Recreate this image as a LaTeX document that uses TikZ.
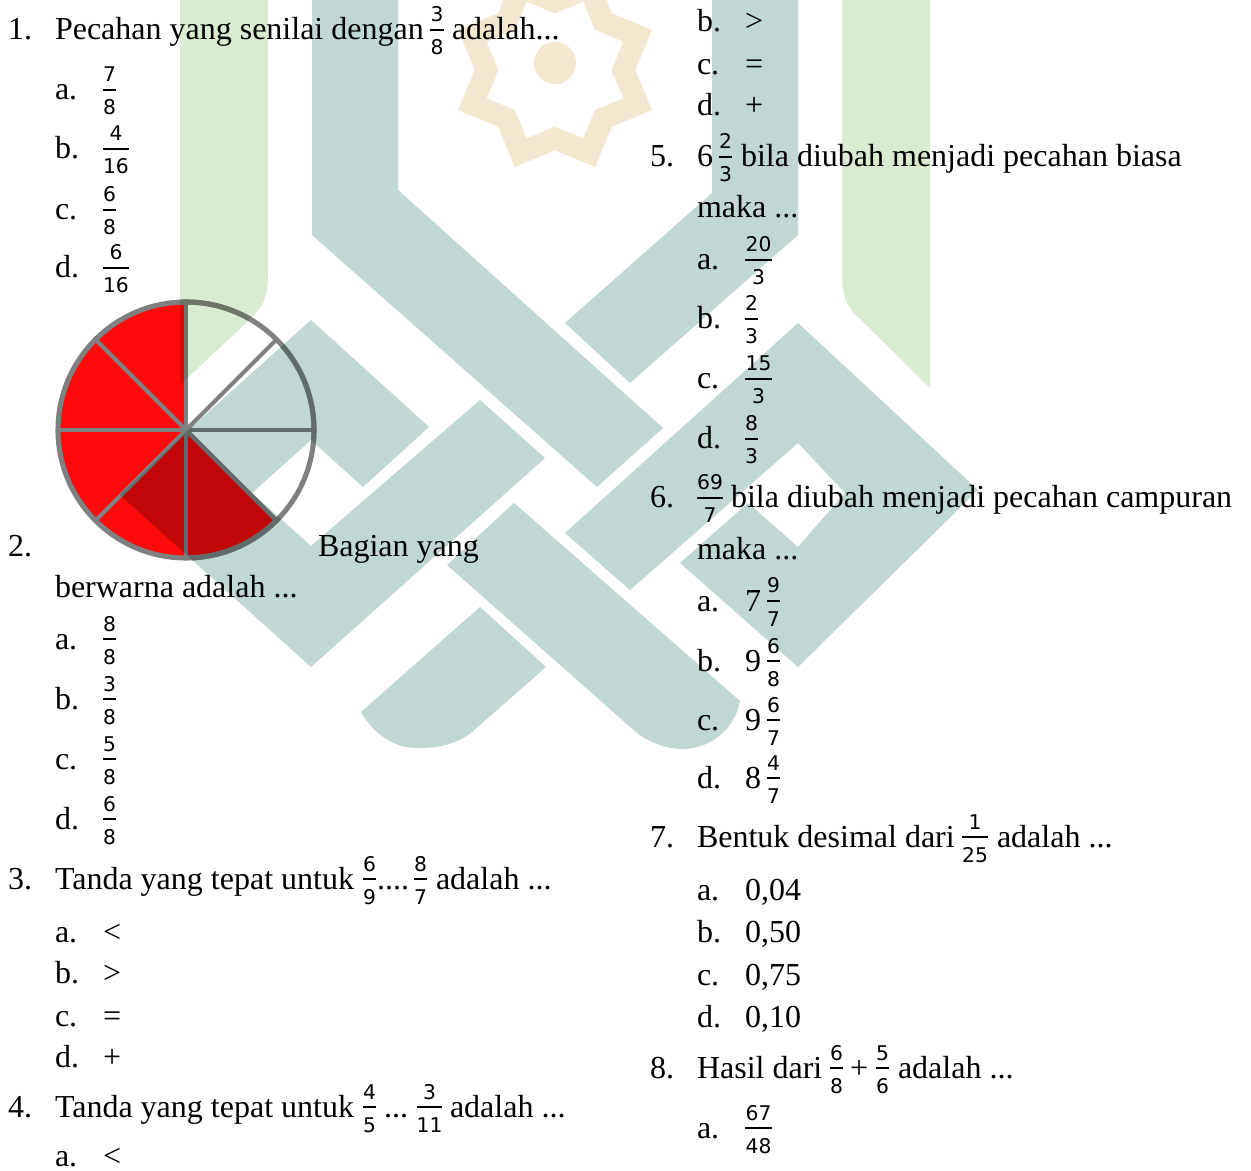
\documentclass[tikz,border=0pt]{standalone}
\usepackage{fontspec}
\setmainfont{Liberation Serif}
\newfontfamily\fracf{DejaVu Sans}
\definecolor{wteal}{RGB}{192,215,212}
\definecolor{wgreen}{RGB}{217,236,210}
\definecolor{wbeige}{RGB}{243,231,207}
\definecolor{piered}{RGB}{255,10,10}
\definecolor{piegray}{RGB}{128,128,128}
\definecolor{tealred}{RGB}{192,8,8}
\definecolor{greenred}{RGB}{217,9,8}
\definecolor{tealgray}{RGB}{96,108,106}
\definecolor{greengray}{RGB}{109,118,105}
\tikzset{
  txt/.style={anchor=base west, inner sep=0pt, outer sep=0pt, font=\fontsize{12}{14}\selectfont},
  fnum/.style={anchor=base, inner sep=0pt, outer sep=0pt, font=\fracf\fontsize{7.6}{9}\selectfont},
  fbar/.style={line width=1.1pt},
  sliceline/.style={line width=1.5pt},
  rim/.style={line width=1.9pt},
}
% #1 name, #2 left x, #3 baseline, #4 width, #5 numerator, #6 denominator
\newcommand\frc[6]{%
  \node[fnum] (#1n) at ({#2+#4/2},{#3-18}) {#5};
  \node[fnum] (#1d) at ({#2+#4/2},{#3+15}) {#6};
  \draw[fbar] (#2,{#3-10}) -- ({#2+#4},{#3-10});}
% watermark paths (pixel coordinates)
\def\wmGreen{(180,-2) -- (268,-2) -- (268,272) .. controls (268,300) and (262,308) .. (248,321) -- (180,385) -- cycle
  (930,-2) -- (842,-2) -- (842,272) .. controls (842,300) and (848,308) .. (862,321) -- (930,388) -- cycle}
\def\wmTeal{(312,-2) -- (398,-2) -- (398,190) -- (663,428) -- (597,487) -- (312,235) -- cycle
  (712,-2) -- (798,-2) -- (798,235) -- (630,383) -- (565,323) -- (712,193) -- cycle
  (311,320) -- (429,427) -- (363,487) -- (311,440) -- (252,493) -- (185,433) -- cycle
  (120,495) -- (311,667) -- (545,458) -- (480,400) -- (311,546) -- (252,493) -- (185,433) -- cycle
  (565,533) -- (798,323) -- (978,490) -- (798,667) -- (680,563) -- (748,503) -- (798,547)
     -- (845,493) -- (798,443) -- (630,590) -- cycle
  (514,503) -- (740,701) .. controls (735,728) and (712,748) .. (684,749)
     .. controls (665,749) and (645,742) .. (628,725) -- (447,565) -- cycle
  (480,607) -- (546,667) -- (472,732) .. controls (455,746) and (430,750) .. (405,747)
     .. controls (385,742) and (370,728) .. (361,712) -- cycle}
\def\redsector{(186,430) -- (186,302) arc[start angle=-90, end angle=-315, radius=128] -- cycle}
\newcommand\pielines[1]{%
  \foreach \a in {0,45,...,315} \draw[sliceline, draw=#1] (pc) -- ++(\a:128);
  \draw[rim, draw=#1] (pc) circle[radius=128];}
\begin{document}
\begin{tikzpicture}[x=0.375pt,y=-0.375pt]
\fill[white] (0,0) rectangle (1251,1171);
\useasboundingbox (0,0) rectangle (1251,1171);

% ---------- watermark (behind) ----------
\fill[wgreen] \wmGreen;
\fill[wteal] \wmTeal;
\begin{scope}[shift={(555,70)}, y=0.375pt]
  \fill[wbeige, even odd rule]
    (22.5:105) -- (45:80.3) -- (67.5:105) -- (90:80.3) -- (112.5:105) -- (135:80.3) -- (157.5:105) -- (180:80.3)
    -- (202.5:105) -- (225:80.3) -- (247.5:105) -- (270:80.3) -- (292.5:105) -- (315:80.3) -- (337.5:105) -- (0:80.3) -- cycle
    (22.5:74) -- (45:56.6) -- (67.5:74) -- (90:56.6) -- (112.5:74) -- (135:56.6) -- (157.5:74) -- (180:56.6)
    -- (202.5:74) -- (225:56.6) -- (247.5:74) -- (270:56.6) -- (292.5:74) -- (315:56.6) -- (337.5:74) -- (0:56.6) -- cycle;
  \fill[wbeige] (0,7) circle[radius=21];
\end{scope}

% ---------- pie ----------
\coordinate (pc) at (186,430);
\fill[piered] \redsector;
\begin{scope}
  \clip \redsector;
  \fill[tealred] \wmTeal;
  \fill[greenred] \wmGreen;
\end{scope}
\pielines{piegray}
\begin{scope}
  \clip \wmTeal;
  \pielines{tealgray}
\end{scope}
\begin{scope}
  \clip \wmGreen;
  \pielines{greengray}
\end{scope}

% ---------- left column ----------
\node[txt] (n1) at (8,40) {1.};
\node[txt] (q1) at (55,40) {Pecahan yang senilai dengan};
\frc{f1}{430}{40}{14}{3}{8}
\node[txt] (q1e) at (452,40) {adalah...};
\node[txt] (q1a) at (55,100) {a.}; \frc{f1a}{103}{100}{13}{7}{8}
\node[txt] (q1b) at (55,159) {b.}; \frc{f1b}{103}{159}{26}{4}{16}
\node[txt] (q1c) at (55,220) {c.}; \frc{f1c}{103}{220}{13}{6}{8}
\node[txt] (q1d) at (55,278) {d.}; \frc{f1d}{103}{278}{26}{6}{16}

\node[txt] (n2) at (8,557) {2.};
\node[txt] (q2) at (318,557) {Bagian yang};
\node[txt] (q2b) at (55,598) {berwarna adalah ...};
\node[txt] (q2a) at (55,649) {a.}; \frc{f2a}{103}{649}{13}{8}{8}
\node[txt] (q2bb) at (55,709) {b.}; \frc{f2b}{103}{709}{13}{3}{8}
\node[txt] (q2c) at (55,769) {c.}; \frc{f2c}{103}{769}{13}{5}{8}
\node[txt] (q2d) at (55,829) {d.}; \frc{f2d}{103}{829}{13}{6}{8}

\node[txt] (n3) at (8,889) {3.};
\node[txt] (q3) at (55,889) {Tanda yang tepat untuk};
\frc{f3a}{363}{889}{13}{6}{9}
\node[txt] (q3m) at (377,889) {....};
\frc{f3b}{414}{889}{13}{8}{7}
\node[txt] (q3e) at (436,889) {adalah ...};
\node[txt] (q3a) at (55,942) {a.};  \node[txt] (q3as) at (103,942) {<};
\node[txt] (q3b) at (55,983) {b.};  \node[txt] (q3bs) at (103,983) {>};
\node[txt] (q3c) at (55,1026) {c.}; \node[txt] (q3cs) at (103,1026) {=};
\node[txt] (q3d) at (55,1067) {d.}; \node[txt] (q3ds) at (103,1067) {+};

\node[txt] (n4) at (8,1117) {4.};
\node[txt] (q4) at (55,1117) {Tanda yang tepat untuk};
\frc{f4a}{363}{1117}{13}{4}{5}
\node[txt] (q4m) at (384,1117) {...};
\frc{f4b}{417}{1117}{25}{3}{11}
\node[txt] (q4e) at (450,1117) {adalah ...};
\node[txt] (q4a) at (55,1166) {a.}; \node[txt] (q4as) at (103,1166) {<};

% ---------- right column ----------
\node[txt] (r4b) at (697,32) {b.};  \node[txt] (r4bs) at (745,32) {>};
\node[txt] (r4c) at (697,75) {c.};  \node[txt] (r4cs) at (745,75) {=};
\node[txt] (r4d) at (697,116) {d.}; \node[txt] (r4ds) at (745,116) {+};

\node[txt] (n5) at (650,167) {5.};
\node[txt] (q5i) at (697,167) {6};
\frc{f5}{719}{167}{13}{2}{3}
\node[txt] (q5) at (741,167) {bila diubah menjadi pecahan biasa};
\node[txt] (q5m) at (697,218) {maka ...};
\node[txt] (q5a) at (697,270) {a.}; \frc{f5a}{745}{270}{27}{20}{3}
\node[txt] (q5b) at (697,329) {b.}; \frc{f5b}{745}{329}{13}{2}{3}
\node[txt] (q5c) at (697,389) {c.}; \frc{f5c}{745}{389}{27}{15}{3}
\node[txt] (q5d) at (697,449) {d.}; \frc{f5d}{745}{449}{13}{8}{3}

\node[txt] (n6) at (650,508) {6.};
\frc{f6}{697}{508}{26}{69}{7}
\node[txt] (q6) at (731,508) {bila diubah menjadi pecahan campuran};
\node[txt] (q6m) at (697,560) {maka ...};
\node[txt] (q6a) at (697,611) {a.}; \node[txt] (q6ai) at (745,611) {7}; \frc{f6a}{767}{611}{13}{9}{7}
\node[txt] (q6b) at (697,671) {b.}; \node[txt] (q6bi) at (745,671) {9}; \frc{f6b}{767}{671}{13}{6}{8}
\node[txt] (q6c) at (697,730) {c.}; \node[txt] (q6ci) at (745,730) {9}; \frc{f6c}{767}{730}{13}{6}{7}
\node[txt] (q6d) at (697,788) {d.}; \node[txt] (q6di) at (745,788) {8}; \frc{f6d}{767}{788}{13}{4}{7}

\node[txt] (n7) at (650,847) {7.};
\node[txt] (q7) at (697,847) {Bentuk desimal dari};
\frc{f7}{962}{847}{26}{1}{25}
\node[txt] (q7e) at (997,847) {adalah ...};
\node[txt] (q7a) at (697,900) {a.};  \node[txt] (q7as) at (745,900) {0,04};
\node[txt] (q7b) at (697,942) {b.};  \node[txt] (q7bs) at (745,942) {0,50};
\node[txt] (q7c) at (697,985) {c.};  \node[txt] (q7cs) at (745,985) {0,75};
\node[txt] (q7d) at (697,1027) {d.}; \node[txt] (q7ds) at (745,1027) {0,10};

\node[txt] (n8) at (650,1078) {8.};
\node[txt] (q8) at (697,1078) {Hasil dari};
\frc{f8a}{830}{1078}{13}{6}{8}
\node[txt] (q8p) at (850,1078) {+};
\frc{f8b}{876}{1078}{13}{5}{6}
\node[txt] (q8e) at (898,1078) {adalah ...};
\node[txt] (q8a) at (697,1138) {a.}; \frc{f8aa}{745}{1138}{27}{67}{48}
\end{tikzpicture}
\end{document}
